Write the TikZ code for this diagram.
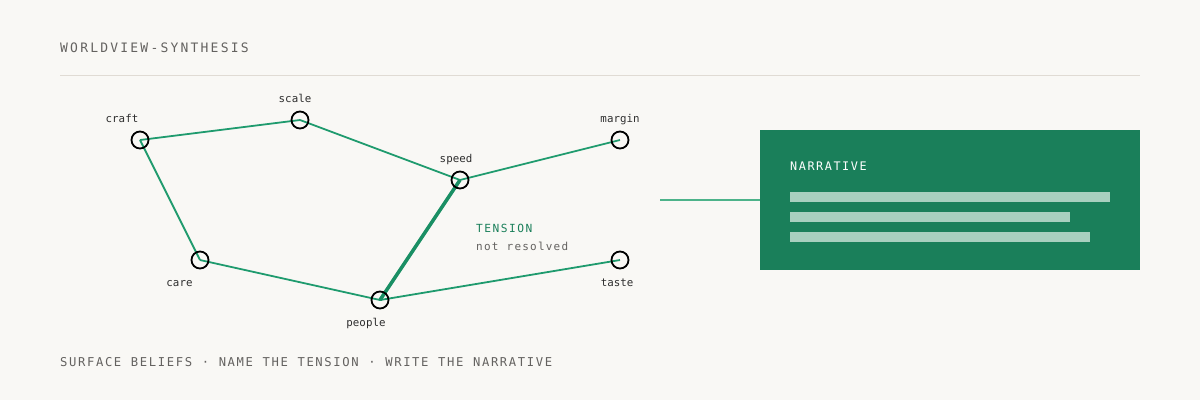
\documentclass[tikz,border=0pt]{standalone}
\usepackage{fontspec}
\setmonofont{DejaVu Sans Mono}
\newfontfamily\monoA[LetterSpace=17]{DejaVu Sans Mono}
\newfontfamily\monoB[LetterSpace=13.3,WordSpace=1.075]{DejaVu Sans Mono}
\newfontfamily\monoC[LetterSpace=11,WordSpace=1.05]{DejaVu Sans Mono}
\newfontfamily\monoD{DejaVu Sans Mono}
\definecolor{bg}{HTML}{F9F8F5}
\definecolor{edge}{HTML}{1F9B6E}
\definecolor{edgedark}{HTML}{1A8F64}
\definecolor{boxg}{HTML}{1A7F5A}
\definecolor{conn}{HTML}{4DB38A}
\definecolor{barc}{HTML}{A8D0BF}
\definecolor{grayt}{HTML}{646260}
\definecolor{labt}{HTML}{2E2E2E}
\definecolor{rulec}{HTML}{E0DBD4}
\definecolor{tens}{HTML}{1A7F5A}
\tikzset{
  belief/.style={circle,draw=black,line width=1.8pt,minimum size=17pt,inner sep=0pt},
  link/.style={draw=edge,line width=1.8pt},
  tensionlink/.style={draw=edgedark,line width=3.5pt},
  lab/.style={anchor=base,inner sep=0pt,font=\monoD\fontsize{10.8}{12}\selectfont,text=labt},
  bar/.style={fill=barc,draw=none},
}
\begin{document}
\begin{tikzpicture}[x=1pt,y=-1pt]
\fill[bg] (0,0) rectangle (1200,400);
\useasboundingbox (0,0) rectangle (1200,400);
% title and rule
\node[anchor=base west,inner sep=0pt,text=grayt,font=\monoA\fontsize{13}{15}\selectfont] (title) at (60,52) {WORLDVIEW-SYNTHESIS};
\coordinate (r1) at (60,75.5);
\coordinate (r2) at (1140,75.5);
\draw[rulec,line width=1.5pt] (r1) -- (r2);
% node positions
\coordinate (craft) at (140,140);
\coordinate (scale) at (300,120);
\coordinate (speed) at (460,180);
\coordinate (margin) at (620,140);
\coordinate (care) at (200,260);
\coordinate (people) at (380,300);
\coordinate (taste) at (620,260);
% edges
\draw[link] (craft) -- (scale);
\draw[link] (scale) -- (speed);
\draw[link] (speed) -- (margin);
\draw[link] (craft) -- (care);
\draw[link] (care) -- (people);
\draw[link] (people) -- (taste);
\draw[tensionlink] (people) -- (speed);
% circles
\foreach \n in {craft,scale,speed,margin,care,people,taste}
  \node[belief] (c-\n) at (\n) {};
% labels
\node[lab] (l-craft) at (122,122) {craft};
\node[lab] (l-scale) at (295,102) {scale};
\node[lab] (l-speed) at (456,162) {speed};
\node[lab] (l-margin) at (620,122) {margin};
\node[lab] (l-care) at (179.5,286) {care};
\node[lab] (l-people) at (366,326) {people};
\node[lab] (l-taste) at (617,286) {taste};
% tension
\node[anchor=base west,inner sep=0pt,text=tens,font=\monoB\fontsize{11.2}{13}\selectfont] (tlab) at (476,232) {TENSION};
\node[anchor=base west,inner sep=0pt,text=grayt,font=\monoC\fontsize{11}{13}\selectfont] (tsub) at (476,250) {not resolved};
% narrative
\node[anchor=north west,inner sep=0pt,minimum width=380pt,minimum height=140pt,fill=boxg] (box) at (760,130) {};
\coordinate (cstart) at (660,200);
\draw[conn,line width=1.8pt] (cstart) -- (box.west |- cstart);
\node[anchor=base west,inner sep=0pt,text=white,font=\monoB\fontsize{11.8}{14}\selectfont] (ntitle) at (790,170) {NARRATIVE};
\fill[bar] (790,191.7) rectangle (1110,201.7);
\fill[bar] (790,211.7) rectangle (1070,221.7);
\fill[bar] (790,231.7) rectangle (1090,241.7);
% footer
\node[anchor=base west,inner sep=0pt,text=grayt,font=\monoB\fontsize{12.2}{14}\selectfont] (footer) at (60,366.5) {SURFACE BELIEFS · NAME THE TENSION · WRITE THE NARRATIVE};
\end{tikzpicture}
\end{document}
